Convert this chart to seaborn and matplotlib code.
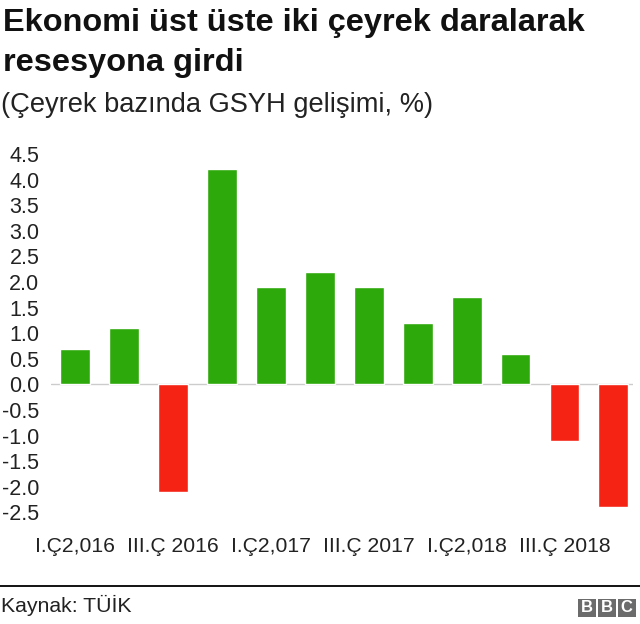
import matplotlib
matplotlib.use("Agg")
import matplotlib.pyplot as plt
from matplotlib.patches import Rectangle
from matplotlib.lines import Line2D
import seaborn as sns
import pandas as pd

# ---- data ----
quarters = ["I.Ç2,016", "II.Ç 2016", "III.Ç 2016", "IV.Ç 2016",
            "I.Ç2,017", "II.Ç 2017", "III.Ç 2017", "IV.Ç 2017",
            "I.Ç2,018", "II.Ç 2018", "III.Ç 2018", "IV.Ç 2018"]
growth = [0.7, 1.1, -2.1, 4.2, 1.9, 2.2, 1.9, 1.2, 1.7, 0.6, -1.1, -2.4]
shown_labels = ["I.Ç2,016", "III.Ç 2016", "I.Ç2,017", "III.Ç 2017", "I.Ç2,018", "III.Ç 2018"]
yticks = [-2.5, -2.0, -1.5, -1.0, -0.5, 0.0, 0.5, 1.0, 1.5, 2.0, 2.5, 3.0, 3.5, 4.0, 4.5]

title = "Ekonomi üst üste iki çeyrek daralarak\nresesyona girdi"
subtitle = "(Çeyrek bazında GSYH gelişimi, %)"
source = "Kaynak: TÜİK"

GREEN = "#2ea90b"
RED = "#f42314"

sns.set_theme(style="white")
plt.rcParams["font.family"] = ["Liberation Sans", "DejaVu Sans"]

df = pd.DataFrame({"q": quarters, "v": growth})
df["sign"] = ["pos" if v >= 0 else "neg" for v in growth]

W, H = 640, 624
fig = plt.figure(figsize=(W / 100, H / 100), dpi=100)
ax = fig.add_axes([50.5 / W, 1 - 517.6 / H, (633 - 50.5) / W, (517.6 - 148.9) / H])

sns.barplot(data=df, x="q", y="v", hue="sign", palette={"pos": GREEN, "neg": RED},
            dodge=False, legend=False, width=0.61, ax=ax, saturation=1)

ax.set_xlim(-0.5, 11.4)
ax.set_ylim(-2.6, 4.6)
ax.axhline(0, color="#cccccc", lw=1, zorder=0.5)
for s in ax.spines.values():
    s.set_visible(False)
ax.set_xlabel("")
ax.set_ylabel("")
ax.set_yticks(yticks)
ax.set_yticklabels([f"{t:.1f}" for t in yticks], fontsize=15.5, color="#222222")
pos = [quarters.index(l) for l in shown_labels]
ax.set_xticks(pos)
ax.set_xticklabels(shown_labels, fontsize=15.2, color="#222222")
ax.tick_params(axis="y", length=0, pad=8)
ax.tick_params(axis="x", length=0, pad=14)

fig.text(3 / W, 1 - 8 / H, title, fontsize=23.4, fontweight="bold", va="top", ha="left",
         color="#111111", linespacing=1.45)
fig.text(1 / W, 1 - 105 / H, subtitle, fontsize=19.6, va="center", ha="left", color="#222222")

fig.add_artist(Line2D([0, 1], [1 - 586 / H, 1 - 586 / H], color="black", lw=1.3,
                      transform=fig.transFigure))
fig.text(1 / W, 1 - 605 / H, source, fontsize=15.3, va="center", ha="left", color="#222222")

# BBC logo
bx0, by0, bw, bh, gap = 578, 599, 17.5, 18, 2.5
for i, ch in enumerate("BBC"):
    x = bx0 + i * (bw + gap)
    fig.add_artist(Rectangle((x / W, 1 - (by0 + bh) / H), bw / W, bh / H,
                             transform=fig.transFigure, color="#6b6b6b", lw=0))
    fig.text((x + bw / 2) / W, 1 - (by0 + bh / 2) / H, ch, fontsize=12, fontweight="bold",
             color="white", ha="center", va="center")

fig.savefig("out.png", dpi=100, facecolor="white")
